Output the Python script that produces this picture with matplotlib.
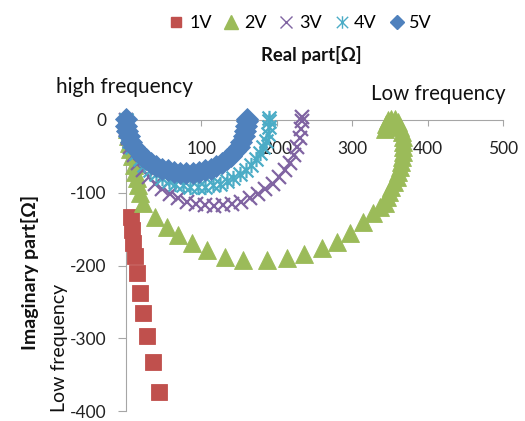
import matplotlib
matplotlib.use("Agg")
import matplotlib.pyplot as plt
from matplotlib.path import Path

plt.rcParams['font.family'] = ['Lato', 'DejaVu Sans']
plt.rcParams['axes.unicode_minus'] = False

# ---- data ----
v1_x = [6.2, 7.5, 8.9, 11.5, 14.2, 18.5, 22.1, 27.4, 35.4, 43.3]
v1_y = [-133.7, -151, -168.5, -187, -210.7, -237.4, -265.7, -297, -333, -374.3]

v2_x = [0, 1, 2.5, 4, 5.5, 7.5, 10.6, 12.5, 14.6, 16.5, 18.5, 22.5, 38.4, 54.3, 68.9,
        87.4, 107.3, 131.1, 155, 186.8, 213.2, 235.8, 259.6, 279.5, 296.7, 313.9,
        327.2, 337, 343, 346, 349, 352, 355, 359, 361, 363, 365, 366, 367, 367.5,
        367.5, 367, 366, 364, 361, 357, 352, 348, 345, 343]
v2_y = [-3, -12, -22, -31, -40, -50, -62, -71, -80, -90, -100, -114, -133, -147, -158,
        -169, -179, -188, -192, -192, -190, -184, -176, -168, -155, -140,
        -128, -120, -114, -106, -99, -92, -85, -78, -71, -65, -58, -51, -44, -37,
        -30, -23, -16, -9, -3, 1, 2, 0, -5, -13]

v3_x = [0, 0.6, 2.6, 5.7, 10.1, 15.6, 22.3, 29.9, 38.5, 48, 58.3, 69.1, 80.5, 92.3,
        104.3, 116.5, 128.7, 140.7, 152.5, 163.9, 174.8, 184.9, 194.4, 203.1, 210.7,
        217.4, 222.9, 227.3, 230.4, 232.4, 233, 233]
v3_y = [0, -12.3, -24.5, -36.5, -48, -59, -69.4, -79, -87.7, -95.5, -102.2, -107.8,
        -112.2, -115.4, -117.4, -118, -117.4, -115.4, -112.2, -107.8, -102.2, -95.5,
        -87.7, -79, -69.4, -59, -48, -36.5, -24.5, -12.3, -2, 4]

v4_x = [0, 0.5, 2.1, 4.6, 8.2, 12.7, 18.1, 24.4, 31.4, 39.2, 47.5, 56.4, 65.6, 75.2,
        85.1, 95, 104.9, 114.8, 124.4, 133.6, 142.5, 150.8, 158.6, 165.6, 171.9,
        177.3, 181.8, 185.4, 187.9, 189.5, 190, 190]
v4_y = [0, -9.6, -19.1, -28.4, -37.4, -46, -54.1, -61.6, -68.4, -74.4, -79.7, -84,
        -87.5, -90, -91.5, -92, -91.5, -90, -87.5, -84, -79.7, -74.4, -68.4, -61.6,
        -54.1, -46, -37.4, -28.4, -19.1, -9.6, -2, 3]

v5_x = [0.5, 0.4, 1.8, 3.9, 6.9, 10.7, 15.3, 20.6, 26.5, 33, 40, 47.5, 55.3, 63.4,
        71.6, 80, 88.4, 96.6, 104.7, 112.5, 120, 127, 133.5, 139.4, 144.7, 149.3,
        153.1, 156.1, 158.2, 159.6, 160, 160]
v5_y = [1, -7.6, -15.2, -22.6, -29.7, -36.5, -42.9, -48.8, -54.2, -59.1, -63.2, -66.7,
        -69.4, -71.4, -72.6, -73, -72.6, -71.4, -69.4, -66.7, -63.2, -59.1, -54.2,
        -48.8, -42.9, -36.5, -29.7, -22.6, -15.2, -7.6, -2, 2]

labels = ['1V', '2V', '3V', '4V', '5V']
x_ticks = [0, 100, 200, 300, 400, 500]
y_ticks = [-400, -300, -200, -100, 0]

# ---- figure ----
W, H = 525, 421
fig = plt.figure(figsize=(W / 100, H / 100), dpi=100)
ax = fig.add_axes([126 / W, 1 - 411 / H, (503 - 126) / W, (411 - 120) / H])

star = Path([(-1, -1), (1, 1), (-1, 1), (1, -1), (0, -1.1), (0, 1.1)],
            [Path.MOVETO, Path.LINETO, Path.MOVETO, Path.LINETO, Path.MOVETO, Path.LINETO])

red, green, purple, cyan, blue = '#C0504D', '#9BBB59', '#8064A2', '#4BACC6', '#4F81BD'

h1, = ax.plot(v1_x, v1_y, ls='none', marker='s', ms=11, mfc=red, mec=red, mew=0.6,
              clip_on=False, label=labels[0])
h2, = ax.plot(v2_x, v2_y, ls='none', marker='^', ms=12.5, mfc=green, mec=green, mew=0.6,
              clip_on=False, label=labels[1])
h3, = ax.plot(v3_x, v3_y, ls='none', marker='x', ms=10.5, mec=purple, mew=1.6,
              clip_on=False, label=labels[2])
h4, = ax.plot(v4_x, v4_y, ls='none', marker=star, ms=11, mec=cyan, mfc='none', mew=1.6,
              clip_on=False, label=labels[3])
h5, = ax.plot(v5_x, v5_y, ls='none', marker='D', ms=11, mfc=blue, mec=blue, mew=0.6,
              clip_on=False, label=labels[4])

ax.set_xlim(0, 500)
ax.set_ylim(-400, 0)
ax.set_xticks(x_ticks)
ax.set_yticks(y_ticks)
ax.patch.set_alpha(0)

for s in ['right', 'top']:
    ax.spines[s].set_visible(False)
ax.spines['bottom'].set_position(('data', 0))
ax.spines['bottom'].set_color('#A6A6A6')
ax.spines['left'].set_color('#A6A6A6')
ax.spines['bottom'].set_zorder(0)
ax.spines['left'].set_zorder(0)
ax.tick_params(axis='x', direction='out', length=4, color='#A6A6A6', pad=11,
               labelsize=12.5, labelcolor='#222222')
ax.tick_params(axis='y', direction='out', length=6, color='#A6A6A6', pad=8,
               labelsize=12.5, labelcolor='#222222')

def fx(px):
    return px / W

def fy(py):
    return 1 - py / H

leg_handles = [
    plt.Line2D([], [], ls='none', marker='s', ms=7, mfc=red, mec=red),
    plt.Line2D([], [], ls='none', marker='^', ms=10, mfc=green, mec=green),
    plt.Line2D([], [], ls='none', marker='x', ms=9, mec=purple, mew=1.0),
    plt.Line2D([], [], ls='none', marker=star, ms=9, mec=cyan, mfc='none', mew=1.0),
    plt.Line2D([], [], ls='none', marker='D', ms=7, mfc=blue, mec=blue),
]
fig.legend(handles=leg_handles, labels=labels, loc='center',
           bbox_to_anchor=(fx(301), fy(23)), ncol=5, frameon=False, fontsize=13,
           handlelength=0.7, handletextpad=0.35, columnspacing=0.75)

fig.text(fx(311), fy(55), 'Real part[Ω]', ha='center', va='center',
         fontsize=13.3, fontweight='bold', color='#111111')
fig.text(fx(30), fy(272), 'Imaginary part[Ω]', ha='center', va='center',
         rotation=90, fontsize=14, fontweight='bold', color='#111111')
fig.text(fx(124), fy(87), 'high frequency', ha='center', va='center',
         fontsize=15, color='#111111')
fig.text(fx(438), fy(94), 'Low frequency', ha='center', va='center',
         fontsize=14.8, color='#111111')
fig.text(fx(60), fy(348), 'Low frequency', ha='center', va='center',
         rotation=90, fontsize=14, color='#111111')

fig.savefig('out.png', dpi=100)
